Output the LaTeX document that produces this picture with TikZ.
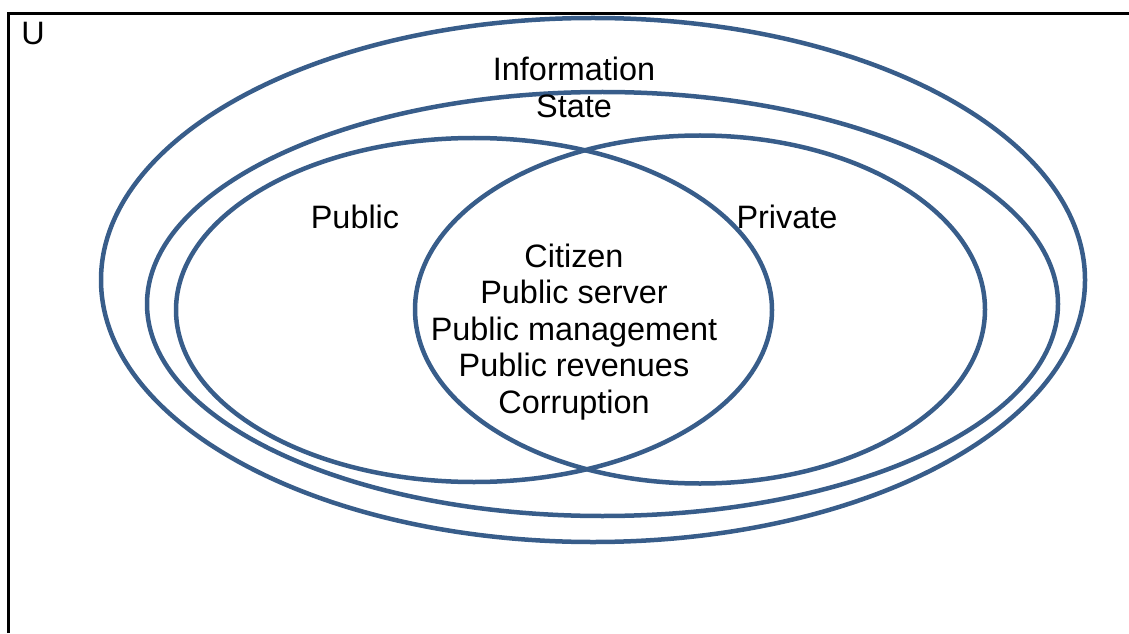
\documentclass[tikz,border=0pt]{standalone}
\usepackage{fontspec}
\setmainfont{Liberation Sans}
\definecolor{setblue}{HTML}{385D8A}

\begin{document}
\begin{tikzpicture}[x=1pt,y=1pt,
        setline/.style={draw=setblue,line width=4.5pt},
        lbl/.style={anchor=base,inner sep=0pt,font=\fontsize{32.4}{37}\selectfont}]
            \useasboundingbox (0,0) rectangle (1129,633);
            % universe frame (cut at right and bottom)
            \draw[line width=3pt] (8,0)--(8,619)--(1129,619);
            \node[lbl] (u) at (33,588) {U};
            % sets
            \draw[setline] (593,353) ellipse [x radius=492, y radius=262];
            \draw[setline] (602.5,329) ellipse [x radius=455.5, y radius=212];
            \draw[setline] (474,323) ellipse [x radius=298, y radius=172];
            \draw[setline] (700,323.5) ellipse [x radius=285, y radius=174];
            \node[lbl] (info) at (574,552) {Information};
            \node[lbl] (state) at (574,515.5) {State};
            \node[lbl] (pub) at (355,405) {Public};
            \node[lbl] (priv) at (787,405) {Private};
            \foreach \t [count=\i] in {Citizen,Public server,Public management,Public revenues,Corruption}{
                \node[lbl] (c\i) at (574,366-36.5*\i+36.5) {\t};
            }
        \end{tikzpicture}
\end{document}
